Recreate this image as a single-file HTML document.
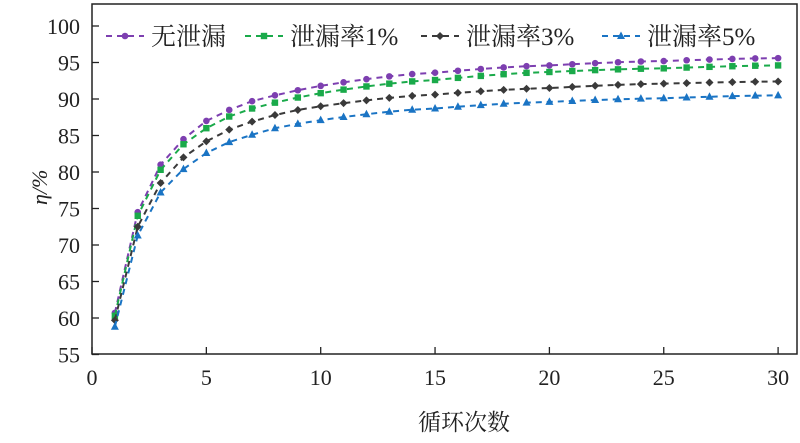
<!DOCTYPE html>
<html><head><meta charset="utf-8"><style>
body{margin:0;background:#fff;}
svg{display:block;font-family:"Liberation Serif","Noto Serif CJK SC",serif;}
</style></head><body>
<svg id="s" width="800" height="443" xmlns="http://www.w3.org/2000/svg"></svg>
<script>
const s=document.getElementById('s');const NS='http://www.w3.org/2000/svg';
function el(t,a,txt){const e=document.createElementNS(NS,t);for(const k in a)e.setAttribute(k,a[k]);if(txt!=null)e.textContent=txt;s.appendChild(e);return e;}
const X=x=>92+x*22.87, Y=v=>26+(100-v)*7.3;
el('rect',{x:92,y:4,width:705,height:350,fill:'none',stroke:'#222','stroke-width':1.5});
for(let v=55;v<=100;v+=5){const y=Y(v);el('line',{x1:92,x2:99,y1:y,y2:y,stroke:'#222','stroke-width':1.3});
el('text',{x:80,y:y+8,'text-anchor':'end','font-size':22,fill:'#222'},v);}
for(let x=0;x<=30;x+=5){const px=X(x);el('line',{x1:px,x2:px,y1:354,y2:347,stroke:'#222','stroke-width':1.3});
el('text',{x:px,y:385,'text-anchor':'middle','font-size':22,fill:'#222'},x);}
el('text',{x:464,y:430,'text-anchor':'middle','font-size':23,fill:'#222'},'循环次数');
el('text',{x:0,y:0,'font-size':22,fill:'#222',transform:'translate(47,205) rotate(-90)','font-style':'italic'},'η/%');
const series=[
{c:'#7d3fb0',m:'c',k:{1:60.7,2:74.5,3:81,4:84.5,5:87,6:88.5,7:89.7,8:90.5,9:91.2,10:91.8,15:93.6,20:94.6,25:95.2,30:95.6}},
{c:'#1aaa4a',m:'s',k:{1:60.3,2:74,3:80.3,4:83.8,5:86,6:87.6,7:88.7,8:89.5,9:90.2,10:90.8,15:92.6,20:93.7,25:94.2,30:94.6}},
{c:'#3a3a3a',m:'d',k:{1:59.7,2:72.5,3:78.5,4:82,5:84.2,6:85.8,7:86.9,8:87.8,9:88.5,10:89,15:90.6,20:91.5,25:92.1,30:92.4}},
{c:'#1a74c4',m:'t',k:{1:58.8,2:71.3,3:77.2,4:80.4,5:82.6,6:84.1,7:85.1,8:86,9:86.6,10:87.1,15:88.7,20:89.6,25:90.1,30:90.5}}];
function val(k,x){if(k[x]!=null)return k[x];const ks=Object.keys(k).map(Number).sort((a,b)=>a-b);
for(let i=0;i<ks.length-1;i++){if(x>ks[i]&&x<ks[i+1]){const t=(x-ks[i])/(ks[i+1]-ks[i]);const tt=1-Math.pow(1-t,1.4);return k[ks[i]]+(k[ks[i+1]]-k[ks[i]])*tt;}}}
function mark(m,x,y,c){
if(m=='c')el('circle',{cx:x,cy:y,r:3.3,fill:c});
else if(m=='s')el('rect',{x:x-3.2,y:y-3.2,width:6.4,height:6.4,fill:c});
else if(m=='d')el('polygon',{points:`${x},${y-4} ${x+4},${y} ${x},${y+4} ${x-4},${y}`,fill:c});
else el('polygon',{points:`${x},${y-4.5} ${x+4},${y+3} ${x-4},${y+3}`,fill:c});}
series.forEach(se=>{let pts=[];for(let x=1;x<=30;x++)pts.push([X(x),Y(val(se.k,x))]);
el('polyline',{points:pts.map(p=>p.join(',')).join(' '),fill:'none',stroke:se.c,'stroke-width':2,'stroke-dasharray':'6,5'});
pts.forEach(p=>mark(se.m,p[0],p[1],se.c));});
const leg=[['无泄漏',106],['泄漏率1%',245],['泄漏率3%',421],['泄漏率5%',602]];
leg.forEach((l,i)=>{const se=series[i];const y=36;
el('line',{x1:l[1],x2:l[1]+38,y1:y,y2:y,stroke:se.c,'stroke-width':2,'stroke-dasharray':'6,5'});
mark(se.m,l[1]+19,y,se.c);
el('text',{x:l[1]+45,y:y+9,'font-size':25,fill:'#222'},l[0]);});
</script>
</body></html>
